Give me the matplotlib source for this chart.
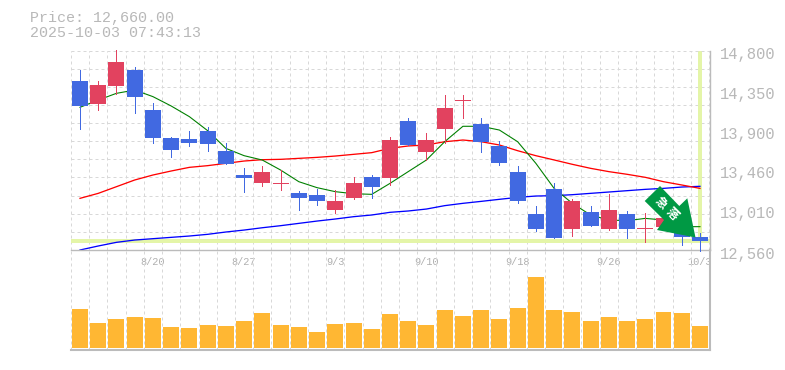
import numpy as np
import matplotlib
matplotlib.use('Agg')
import matplotlib.pyplot as plt
from matplotlib.patches import Polygon
from matplotlib.transforms import Bbox, IdentityTransform, TransformedBbox, ScaledTranslation

plt.rcParams['font.family'] = ['Liberation Mono', 'Noto Sans CJK JP', 'DejaVu Sans']

opens = [14457,14199,14401,14581,14132,13817,13806,13896,13671,13402,13312,13301,13200,13177,13009,13144,13379,
         13368,14008,13660,13919,14233,13975,13728,13436,12964,13245,12796,12987,12796,12964,12796,12814,12803,12706]
closes = [14180,14412,14671,14278,13817,13683,13761,13750,13525,13368,13436,13312,13144,13110,13110,13312,13267,
          13795,13739,13795,14154,14244,13773,13537,13110,12796,12695,13110,12829,13009,12796,12807,12915,12710,12660]
highs = [14581,14457,14806,14615,14210,13829,13896,13941,13761,13480,13503,13458,13222,13245,13233,13379,13402,
         13829,14042,13874,14300,14300,14042,13784,13503,13054,13312,13133,13054,13189,12998,12975,12950,12820,12751]
lows = [13922,14132,14311,14098,13761,13604,13728,13671,13525,13211,13278,13233,13009,13065,12975,13132,13144,
        13290,13739,13571,13761,14042,13660,13514,13088,12773,12695,12717,12829,12785,12695,12650,12780,12616,12549]
ma_short = [14162,14244,14319,14356,14282,14177,14057,13900,13701,13619,13570,13458,13327,13260,13215,13192,13185,
            13308,13440,13571,13776,13949,13949,13907,13776,13533,13252,13084,12953,12897,12889,12915,12897,12822,12822]
ma_mid = [13140,13196,13271,13346,13402,13447,13488,13507,13533,13559,13574,13578,13589,13600,13615,13634,13653,
          13702,13728,13739,13776,13795,13776,13739,13675,13619,13571,13522,13477,13440,13410,13376,13327,13290,13252]
ma_long = [12560,12605,12646,12672,12687,12702,12717,12736,12762,12784,12810,12833,12859,12885,12908,12934,12953,
           12983,12998,13020,13058,13084,13106,13129,13151,13166,13170,13181,13196,13211,13226,13241,13252,13267,13275]
volumes = [1170,750,870,930,900,630,600,690,660,810,1050,690,630,480,720,750,570,1020,810,690,1140,960,1140,870,
           1200,2130,1140,1080,810,930,810,870,1080,1050,660]
date_positions = [4, 9, 14, 19, 24, 29, 34]
date_labels = ['8/20', '8/27', '9/3', '9/10', '9/18', '9/26', '10/3']
price_ticks = [14800, 14350, 13900, 13460, 13010, 12560]
price_labels = ['14,800', '14,350', '13,900', '13,460', '13,010', '12,560']
last_price = 12660
title_lines = ['Price: 12,660.00', '2025-10-03 07:43:13']
arrow_text = ['急', '落']

W, H = 785, 370
BLUE, RED, ORANGE = '#4169E1', '#E2425F', '#FFB733'
PALE, GRID, AXIS, TEXT = '#E4F5A8', '#D8D8D8', '#BBBBBB', '#B8B8B8'
px = 0.72

fig = plt.figure(figsize=(W/100, H/100), dpi=100, facecolor='white')
L, R = 70.7, 710.0
ax = fig.add_axes([L/W, 1-250/H, (R-L)/W, 199.5/H])
vx = fig.add_axes([L/W, 1-350/H, (R-L)/W, 100/H])
x = np.arange(len(opens))
xlim = (-0.51, 34.55)
edges = np.arange(len(opens)+1) - 0.5

for a in (ax, vx):
    a.set_xlim(*xlim)
    a.set_facecolor('none')
    a.set_xticks(edges, minor=True)
    a.grid(True, which='minor', axis='x', color=GRID, lw=px, ls=(0, (3, 3)))
    a.tick_params(which='both', length=0)
    a.set_axisbelow(True)
    a.spines['left'].set_visible(False)
    a.spines['top'].set_visible(False)

ax.set_ylim(12560, 14800)
ax.set_yticks(np.linspace(12560, 14800, 12), minor=True)
ax.grid(True, which='minor', axis='y', color=GRID, lw=px, ls=(0, (3, 3)))
ax.plot(xlim, [14800, 14800], color=GRID, lw=px, ls=(0, (3, 3)), clip_on=False)
ax.spines['bottom'].set_color(AXIS)
ax.spines['right'].set_color(AXIS)
ax.spines['bottom'].set_linewidth(1.0)
ax.spines['right'].set_linewidth(1.0)

ax.axhline(last_price, color=PALE, lw=4*px, zorder=1.5)
ax.plot([x[-1], x[-1]], [last_price, 14800], color=PALE, lw=4*px, zorder=1.5, solid_capstyle='butt')

ax.plot(x, ma_long, color='#0000FF', lw=1.3*px, zorder=2)
ax.plot(x, ma_mid, color='#FF0000', lw=1.3*px, zorder=2)
ax.plot(x, ma_short, color='#008000', lw=1.1*px, zorder=2)

colors = [RED if c >= o else BLUE for o, c in zip(opens, closes)]
ax.vlines(x, lows, highs, colors=colors, lw=1.0*px, zorder=3, antialiased=False, clip_on=False)
ax.bar(x, np.array(closes)-np.array(opens), bottom=opens, width=0.877, color=colors,
       zorder=3.1, antialiased=False, linewidth=0, clip_on=False)

ax.set_xticks(date_positions, date_labels)
ax.tick_params(axis='x', labelsize=7.4, labelcolor='#B0B0B0', pad=5)
clip = TransformedBbox(Bbox([[0, 0], [712.5, H]]), IdentityTransform())
for t in ax.get_xticklabels():
    t.set_clip_box(clip)
    t.set_clip_on(True)

ax.yaxis.tick_right()
ax.set_yticks(price_ticks, price_labels)
ax.tick_params(axis='y', labelsize=11.2, labelcolor=TEXT, pad=7)
shift = ScaledTranslation(0, -2.5/100, fig.dpi_scale_trans)
for t in ax.get_yticklabels():
    t.set_transform(t.get_transform() + shift)

vx.bar(x, volumes, width=0.877, color=ORANGE, linewidth=0, zorder=3, antialiased=False)
vx.set_ylim(-60, 2940)
vx.set_yticks([])
vx.set_xticks([])
vx.spines['bottom'].set_color(AXIS)
vx.spines['right'].set_color(AXIS)
vx.spines['bottom'].set_linewidth(1.5)
vx.spines['right'].set_linewidth(1.5)

arrow_px = [(660, 186), (644.7, 201), (664, 220), (657, 230), (695.5, 237.5), (687.3, 198.3), (679.3, 206)]
fig.add_artist(Polygon([(a/W, 1-b/H) for a, b in arrow_px], closed=True, transform=fig.transFigure,
                       facecolor='#009944', edgecolor='none', zorder=10))
for s, (a, b) in zip(arrow_text, [(661, 203), (672, 214)]):
    fig.text(a/W, 1-b/H, s, color='white', fontsize=8.5, fontweight='bold', rotation=-45,
             ha='center', va='center', family=['Noto Sans CJK JP', 'DejaVu Sans'], zorder=11)

for s, b in zip(title_lines, (18, 33)):
    fig.text(30/W, 1-b/H, s, color=TEXT, fontsize=10.8, ha='left', va='center')

fig.savefig('out.png', dpi=100, facecolor='white')
